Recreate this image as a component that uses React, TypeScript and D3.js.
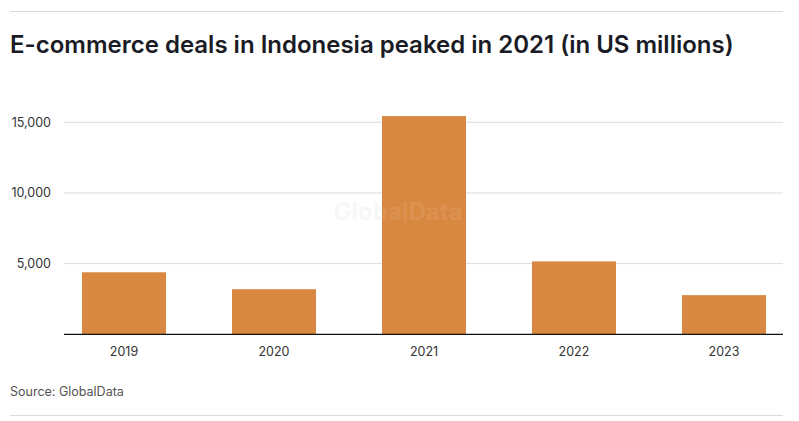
import React from "react";
import * as d3 from "d3";

const years = ["2019", "2020", "2021", "2022", "2023"];
const deals = [4390, 3190, 15440, 5160, 2770];
const yTicks = [5000, 10000, 15000];

const W = 799;
const H = 421;

export default function App() {
  const x = d3
    .scaleBand<string>()
    .domain(years)
    .range([49, 799])
    .paddingInner(0.44)
    .paddingOuter(0.22);
  const y = d3.scaleLinear().domain([0, 15000]).range([334.3, 122.3]);
  const fmt = d3.format(",");
  const font = "Inter, 'Noto Sans', sans-serif";

  return (
    <svg
      width={W}
      height={H}
      style={{ position: "absolute", left: 0, top: 0, background: "#fff" }}
    >
      <line x1={10} x2={783} y1={11.5} y2={11.5} stroke="#dcdcdc" strokeWidth={1} />
      <text
        x={10}
        y={53}
        fontFamily={font}
        fontWeight={600}
        fontSize={24}
        fill="#1a1c25"
      >
        E-commerce deals in Indonesia peaked in 2021 (in US millions)
      </text>
      {yTicks.map((t) => (
        <g key={t}>
          <line x1={64} x2={783} y1={y(t)} y2={y(t)} stroke="#dcdcdc" strokeWidth={1} />
          <text
            x={51}
            y={y(t) + 4.5}
            textAnchor="end"
            fontFamily={font}
            fontSize={12.5}
            fill="#333"
          >
            {fmt(t)}
          </text>
        </g>
      ))}
      <text
        x={398}
        y={220}
        textAnchor="middle"
        fontFamily={font}
        fontWeight={700}
        fontSize={24}
        fill="#e6e6e6"
        opacity={0.3}
      >
        GlobalData
      </text>
      {years.map((yr, i) => (
        <rect
          key={yr}
          x={x(yr)}
          y={y(deals[i])}
          width={x.bandwidth()}
          height={y(0) - y(deals[i])}
          fill="#d98841"
        />
      ))}
      <text
        x={398}
        y={220}
        textAnchor="middle"
        fontFamily={font}
        fontWeight={700}
        fontSize={24}
        fill="#ffffff"
        opacity={0.08}
      >
        GlobalData
      </text>
      <line x1={64} x2={783} y1={y(0)} y2={y(0)} stroke="#111" strokeWidth={1.3} />
      {years.map((yr) => (
        <text
          key={yr}
          x={(x(yr) as number) + x.bandwidth() / 2}
          y={355.5}
          textAnchor="middle"
          fontFamily={font}
          fontSize={12.5}
          fill="#333"
        >
          {yr}
        </text>
      ))}
      <text x={10} y={396} fontFamily={font} fontSize={12.5} fill="#555">
        Source: GlobalData
      </text>
      <line x1={10} x2={783} y1={415.5} y2={415.5} stroke="#dcdcdc" strokeWidth={1} />
    </svg>
  );
}
